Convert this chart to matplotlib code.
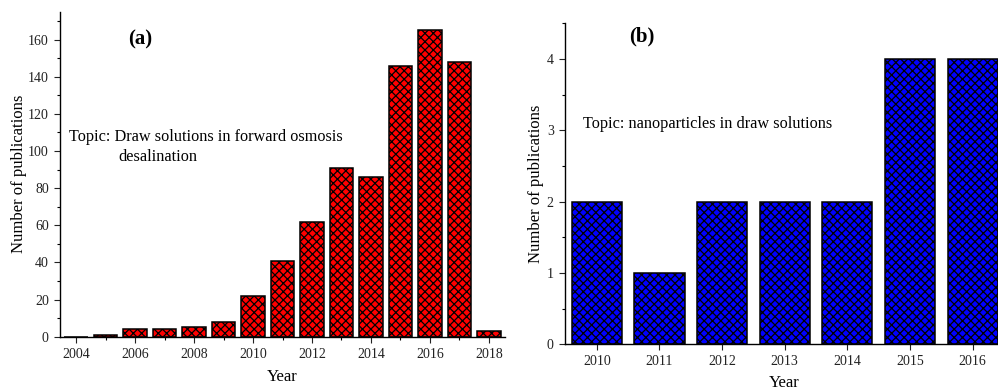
import matplotlib
matplotlib.use("Agg")
import matplotlib.pyplot as plt
from matplotlib.ticker import MultipleLocator

plt.rcParams["font.family"] = ["Liberation Serif", "DejaVu Serif"]
plt.rcParams["hatch.linewidth"] = 0.9

# publications on draw solutions in forward osmosis desalination
years_a = [2004, 2005, 2006, 2007, 2008, 2009, 2010, 2011,
           2012, 2013, 2014, 2015, 2016, 2017, 2018]
counts_a = [0, 1, 4, 4, 5, 8, 22, 41, 62, 91, 86, 146, 165, 148, 3]

# publications on nanoparticles in draw solutions
years_b = [2010, 2011, 2012, 2013, 2014, 2015, 2016]
counts_b = [2, 1, 2, 2, 2, 4, 4]


def style_axes(ax):
    for side in ("top", "right"):
        ax.spines[side].set_visible(False)
    for side in ("left", "bottom"):
        ax.spines[side].set_linewidth(1.0)
    ax.tick_params(which="major", direction="out", length=4, width=0.8,
                   labelsize=10, colors="#222222", pad=4)
    ax.tick_params(which="minor", direction="out", length=2.5, width=0.8)


fig = plt.figure(figsize=(9.98, 3.92), dpi=100)

# (a)
ax1 = fig.add_axes([0.0601, 0.141, 0.446, 0.829])
ax1.bar(years_a, counts_a, width=0.8, color="#ff0000", edgecolor="black",
        linewidth=1.1, hatch="xxxx")
ax1.set_xlim(2003.45, 2018.55)
ax1.set_ylim(0, 175)
ax1.xaxis.set_major_locator(MultipleLocator(2))
ax1.xaxis.set_minor_locator(MultipleLocator(1))
ax1.yaxis.set_major_locator(MultipleLocator(20))
ax1.yaxis.set_minor_locator(MultipleLocator(10))
style_axes(ax1)
ax1.set_xlabel("Year", fontsize=12, labelpad=6)
ax1.set_ylabel("Number of publications", fontsize=12, labelpad=1)
ax1.text(2006.17, 160, "(a)", fontsize=15, fontweight="bold",
         ha="center", va="center")
ax1.text(2003.76, 107.5, "Topic: Draw solutions in forward osmosis",
         fontsize=11.7, ha="left", va="center")
ax1.text(2005.42, 96.7, "desalination", fontsize=11.7, ha="left", va="center")

# (b)
ax2 = fig.add_axes([0.566, 0.1217, 0.44, 0.819])
ax2.bar(years_b, counts_b, width=0.8, color="#0000ff", edgecolor="black",
        linewidth=1.1, hatch="xxxx")
ax2.set_xlim(2009.49, 2016.5)
ax2.set_ylim(0, 4.5)
ax2.set_xticks(years_b)
ax2.yaxis.set_major_locator(MultipleLocator(1))
ax2.yaxis.set_minor_locator(MultipleLocator(0.5))
style_axes(ax2)
ax2.set_xlabel("Year", fontsize=12, labelpad=5)
ax2.set_ylabel("Number of publications", fontsize=12, labelpad=2)
ax2.text(2010.72, 4.31, "(b)", fontsize=15, fontweight="bold",
         ha="center", va="center")
ax2.text(2009.78, 3.085, "Topic: nanoparticles in draw solutions",
         fontsize=11.7, ha="left", va="center")

fig.savefig("out.png", dpi=100)
